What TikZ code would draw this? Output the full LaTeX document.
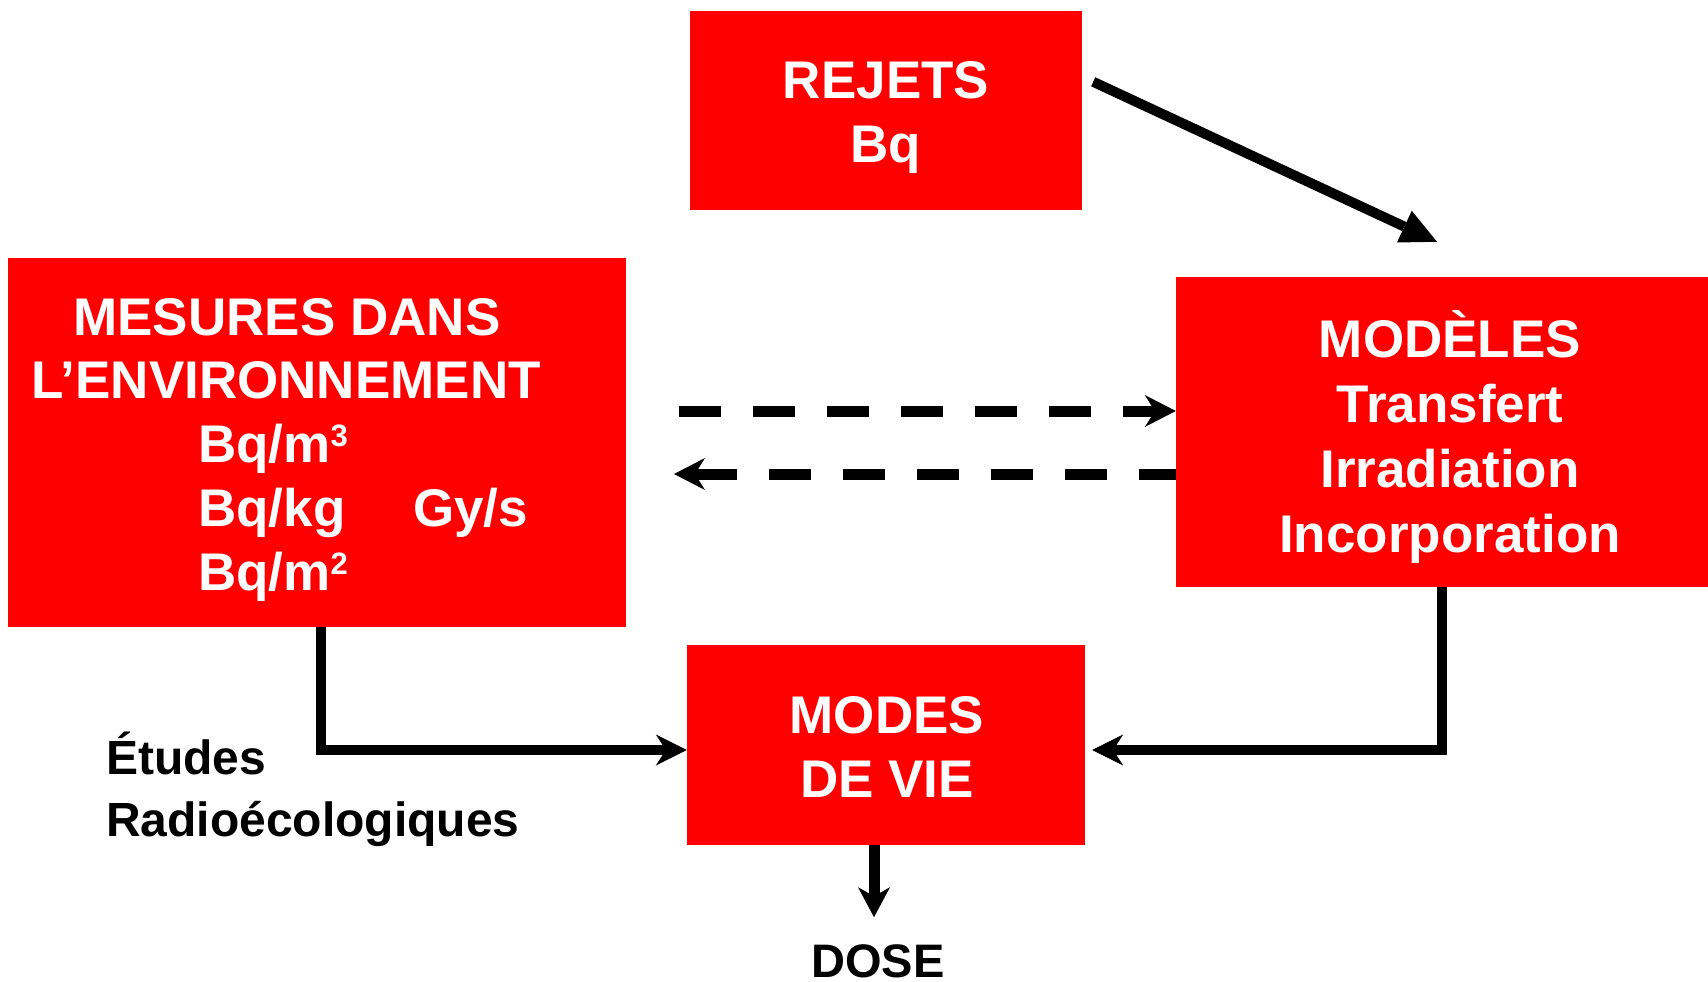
\documentclass[tikz,border=0pt]{standalone}
\usepackage{fontspec}
\setmainfont{Liberation Sans}
\usetikzlibrary{arrows.meta,calc}
\newcommand{\supnum}[1]{\raisebox{16pt}{\fontsize{31}{31}\selectfont #1}}
\begin{document}
\begin{tikzpicture}[x=1pt,y=-1pt,
  box/.style={fill=red, draw=none, inner sep=0pt},
  wtxt/.style={text=white, font=\fontsize{53}{64}\selectfont\bfseries, inner sep=0pt, anchor=base},
  wtxtl/.style={wtxt, anchor=base west},
  btxt/.style={text=black, font=\fontsize{48}{60}\selectfont\bfseries, inner sep=0pt, anchor=base west},
  arrowR/.style={line width=10pt, -{Triangle[length=36pt,width=35pt,line width=0pt]}},
  dasharrow/.style={line width=11pt, dash pattern=on 42pt off 32pt, -{Stealth[length=31pt,width=32pt,inset=10pt,line width=0pt]}},
  elbow/.style={line width=9.5pt, -{Stealth[length=31pt,width=31pt,inset=10pt,line width=0pt]}},
  downarrow/.style={line width=11pt, -{Stealth[length=30pt,width=32pt,inset=9pt,line width=0pt]}}
]
\useasboundingbox (0,0) rectangle (1708,982);

% boxes
\node[box, minimum width=392pt, minimum height=199pt] (rejets) at (886,110.5) {};
\node[box, minimum width=618pt, minimum height=369pt] (mesures) at (317,442.5) {};
\node[box, minimum width=532pt, minimum height=310pt] (modeles) at (1442,432) {};
\node[box, minimum width=398pt, minimum height=200pt] (modes) at (886,745) {};

% texts
\node[wtxt] (t-rejets) at (886,99) {REJETS};
\node[wtxt] (t-rejbq) at (886,162) {Bq};

\node[wtxt] (t-mes1) at (287,335) {MESURES DANS};
\node[wtxt] (t-mes2) at (286,398) {L’ENVIRONNEMENT};
\node[wtxtl] (t-mes3) at (198,462) {Bq/m\supnum{3}};
\node[wtxtl] (t-mes4) at (198,526) {Bq/kg};
\node[wtxtl] (t-mes5) at (198,590) {Bq/m\supnum{2}};
\node[wtxtl] (t-mes6) at (413,526) {Gy/s};

\node[wtxt] (t-mod1) at (1450,357) {MODÈLES};
\node[wtxt] (t-mod2) at (1450,422) {Transfert};
\node[wtxt] (t-mod3) at (1450,487) {Irradiation};
\node[wtxt] (t-mod4) at (1450,552) {Incorporation};

\node[wtxt] (t-vie1) at (887,733) {MODES};
\node[wtxt] (t-vie2) at (887,797) {DE VIE};

\node[btxt] (etudes1) at (106,774) {Études};
\node[btxt] (etudes2) at (106,836) {Radioécologiques};

\node[text=black, font=\fontsize{47}{54}\selectfont\bfseries, inner sep=0pt, anchor=base] (dose) at (878,977) {DOSE};

% connectors
\coordinate (rs) at ($(rejets.north east)+(11,71)$);
\coordinate (re) at ($(modeles.north)+(-5,-35)$);
\draw[arrowR] (rs) -- (re);

\coordinate (d1) at (679,411);
\draw[dasharrow] (d1) -- (d1 -| modeles.west);
\coordinate (d2) at (674,474);
\draw[dasharrow, dash phase=5pt] (d2 -| modeles.west) -- (d2);

\draw[elbow] ($(mesures.south)+(4,0)$) |- ($(modes.west)+(0,5)$);
\draw[elbow] (modeles.south) |- ($(modes.east)+(7,5)$);

\coordinate (ds) at ($(modes.south)+(-12,0)$);
\coordinate (de) at ($(modes.south)+(-12,72)$);
\draw[downarrow] (ds) -- (de);
\end{tikzpicture}
\end{document}
